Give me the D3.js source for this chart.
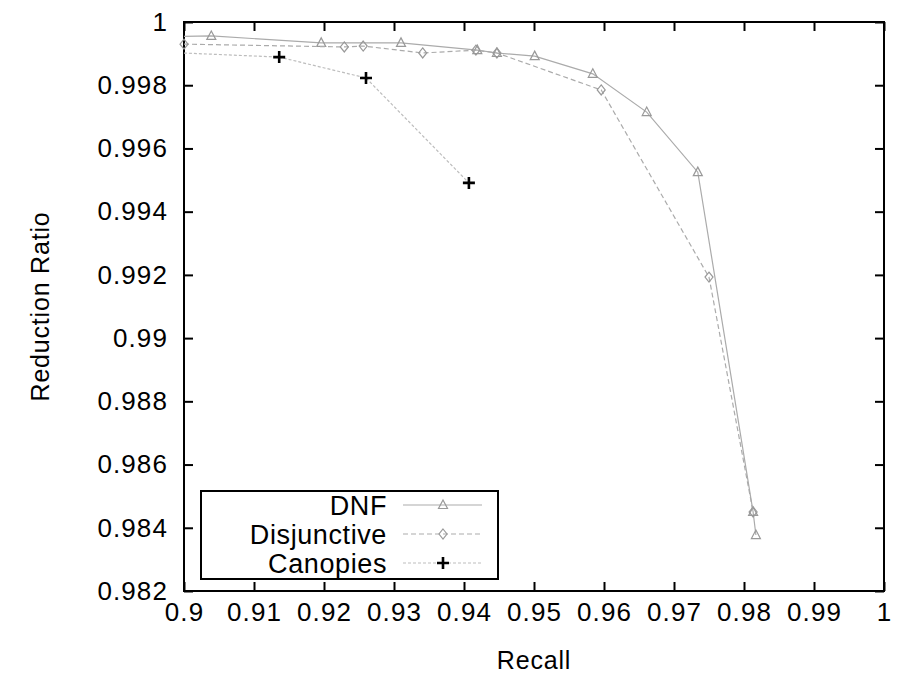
<!DOCTYPE html>
<html lang="en">
<head>
<meta charset="UTF-8">
<title>Reduction Ratio vs Recall</title>
<script src="https://cdn.jsdelivr.net/npm/d3@7"></script>
<style>
  body { margin: 0; background: #fff; }
  svg text { font-family: "Liberation Sans", Arial, sans-serif; fill: #000; }
</style>
</head>
<body>
<div id="chart"></div>
<script>
// values (recall, reduction ratio)
const dnfRecall = [0.8970, 0.9039, 0.9196, 0.9310, 0.9419, 0.9447, 0.9501, 0.9584, 0.9661, 0.9734, 0.9813, 0.9817];
const dnfRatio  = [0.99953, 0.99956, 0.99934, 0.99934, 0.99911, 0.99902, 0.99892, 0.99836, 0.99715, 0.99525, 0.98450, 0.98377];

const disjRecall = [0.9000, 0.9229, 0.9256, 0.9341, 0.9417, 0.9447, 0.9596, 0.9750, 0.9813];
const disjRatio  = [0.99930, 0.99921, 0.99924, 0.99902, 0.99911, 0.99902, 0.99785, 0.99193, 0.98450];

const canRecall = [0.8850, 0.9136, 0.9260, 0.9407];
const canRatio  = [0.99916, 0.99889, 0.99823, 0.99491];

const xTicks = [0.9, 0.91, 0.92, 0.93, 0.94, 0.95, 0.96, 0.97, 0.98, 0.99, 1];
const yTicks = [0.982, 0.984, 0.986, 0.988, 0.99, 0.992, 0.994, 0.996, 0.998, 1];

const seriesNames = ["DNF", "Disjunctive", "Canopies"];

const width = 897, height = 681;
const margin = {top: 22, right: 13, bottom: 90, left: 184};

const svg = d3.select("#chart").append("svg")
    .attr("width", width)
    .attr("height", height);

const x = d3.scaleLinear().domain([0.9, 1]).range([margin.left, width - margin.right]);
const y = d3.scaleLinear().domain([0.982, 1]).range([height - margin.bottom, margin.top]);

const fmt = v => String(+v.toFixed(3));

// axes, ticks pointing inward, mirrored on top and right
svg.append("g")
    .attr("transform", `translate(0,${height - margin.bottom})`)
    .call(d3.axisBottom(x).tickValues(xTicks).tickSize(-9).tickPadding(12).tickFormat(fmt))
    .call(g => g.select(".domain").remove());
svg.append("g")
    .attr("transform", `translate(0,${margin.top})`)
    .call(d3.axisTop(x).tickValues(xTicks).tickSize(-9).tickFormat(""))
    .call(g => g.select(".domain").remove());
svg.append("g")
    .attr("transform", `translate(${margin.left},0)`)
    .call(d3.axisLeft(y).tickValues(yTicks).tickSize(-9).tickPadding(16).tickFormat(fmt))
    .call(g => g.select(".domain").remove());
svg.append("g")
    .attr("transform", `translate(${width - margin.right},0)`)
    .call(d3.axisRight(y).tickValues(yTicks).tickSize(-9).tickFormat(""))
    .call(g => g.select(".domain").remove());

svg.selectAll(".tick line").attr("stroke", "#000").attr("stroke-width", 2);
svg.selectAll(".tick text")
    .attr("font-size", 26)
    .attr("letter-spacing", "1.1px")
    .attr("fill", "#000");

svg.append("rect")
    .attr("x", margin.left).attr("y", margin.top)
    .attr("width", width - margin.left - margin.right)
    .attr("height", height - margin.top - margin.bottom)
    .attr("fill", "none").attr("stroke", "#000").attr("stroke-width", 2);

// axis titles
svg.append("text")
    .attr("x", (margin.left + width - margin.right) / 2)
    .attr("y", 669)
    .attr("text-anchor", "middle")
    .attr("font-size", 25)
    .attr("letter-spacing", "0.8px")
    .text("Recall");
svg.append("text")
    .attr("transform", `translate(49,${(margin.top + height - margin.bottom) / 2}) rotate(-90)`)
    .attr("text-anchor", "middle")
    .attr("font-size", 25)
    .attr("letter-spacing", "0.8px")
    .text("Reduction Ratio");

// lines
svg.append("clipPath").attr("id", "plotClip")
  .append("rect")
    .attr("x", margin.left).attr("y", margin.top)
    .attr("width", width - margin.left - margin.right)
    .attr("height", height - margin.top - margin.bottom);

const series = [
    {name: seriesNames[0], xs: dnfRecall, ys: dnfRatio, color: "#ababab", dash: null, mark: "tri"},
    {name: seriesNames[1], xs: disjRecall, ys: disjRatio, color: "#ababab", dash: "5,3", mark: "dia"},
    {name: seriesNames[2], xs: canRecall, ys: canRatio, color: "#bdbdbd", dash: "3,2", mark: "plus"}
];

const line = d3.line().x(d => x(d[0])).y(d => y(d[1]));

function drawMark(g, kind, cx, cy) {
    if (kind === "tri") {
        g.append("path")
            .attr("d", `M${cx},${cy - 5}L${cx + 4.5},${cy + 3.5}L${cx - 4.5},${cy + 3.5}Z`)
            .attr("fill", "none").attr("stroke", "#999").attr("stroke-width", 1.2);
    } else if (kind === "dia") {
        g.append("path")
            .attr("d", `M${cx},${cy - 5}L${cx + 4},${cy}L${cx},${cy + 5}L${cx - 4},${cy}Z`)
            .attr("fill", "none").attr("stroke", "#999").attr("stroke-width", 1.2);
    } else {
        g.append("path")
            .attr("d", `M${cx - 6},${cy}H${cx + 6}M${cx},${cy - 6}V${cy + 6}`)
            .attr("fill", "none").attr("stroke", "#000").attr("stroke-width", 2.6);
    }
}

const plot = svg.append("g");
series.forEach(s => {
    const pts = s.xs.map((v, i) => [v, s.ys[i]]);
    plot.append("path")
        .datum(pts)
        .attr("clip-path", "url(#plotClip)")
        .attr("d", line)
        .attr("fill", "none")
        .attr("stroke", s.color)
        .attr("stroke-width", 1.2)
        .attr("stroke-dasharray", s.dash);
    const mg = plot.append("g");
    pts.filter(p => p[0] >= 0.9 && p[0] <= 1)
        .forEach(p => drawMark(mg, s.mark, x(p[0]), y(p[1])));
});

// legend
const legend = svg.append("g").attr("class", "legend");
legend.append("rect")
    .attr("x", 201).attr("y", 491)
    .attr("width", 297).attr("height", 88)
    .attr("fill", "#fff").attr("stroke", "#000").attr("stroke-width", 2);

series.forEach((s, i) => {
    const ly = 505 + i * 29;
    legend.append("text")
        .attr("x", 387).attr("y", ly + 10)
        .attr("text-anchor", "end")
        .attr("font-size", 27)
        .attr("letter-spacing", "0.6px")
        .text(s.name);
    legend.append("line")
        .attr("x1", 403).attr("x2", 482)
        .attr("y1", ly).attr("y2", ly)
        .attr("stroke", s.color).attr("stroke-width", 1.2)
        .attr("stroke-dasharray", s.dash);
    drawMark(legend, s.mark, 443, ly);
});
</script>
</body>
</html>
